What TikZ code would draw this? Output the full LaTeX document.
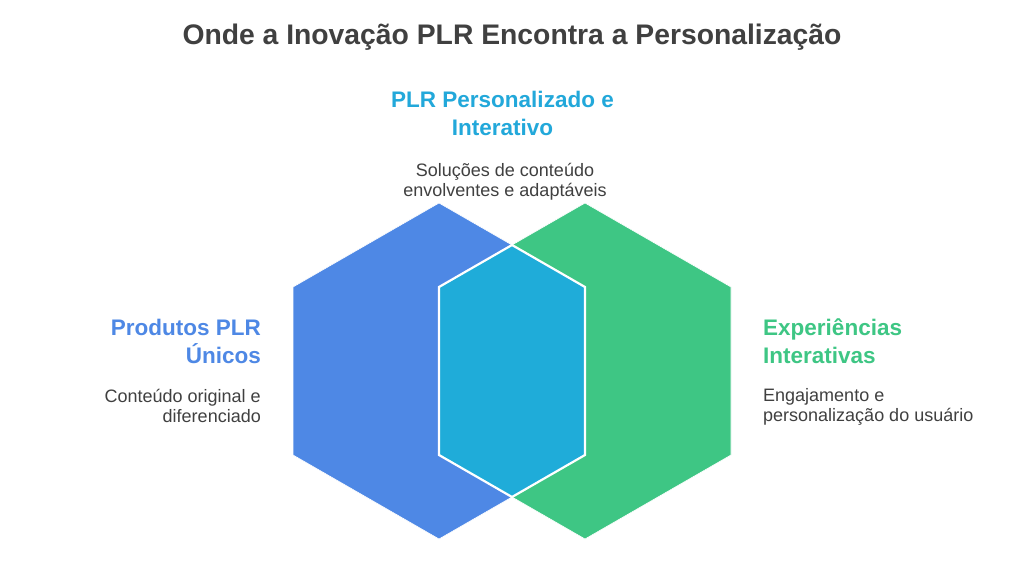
\documentclass[tikz,border=0pt]{standalone}
\usepackage{fontspec}
\setmainfont{Liberation Sans}
\definecolor{hexblue}{HTML}{4E88E5}
\definecolor{hexgreen}{HTML}{3EC684}
\definecolor{hexcyan}{HTML}{1FACD9}
\definecolor{txtgray}{HTML}{404040}
\definecolor{headcyan}{HTML}{22A8DA}
\begin{document}
\begin{tikzpicture}[x=1pt,y=-1pt,
  hexfill/.style={draw=white,line width=0.6pt,line join=miter},
  lens/.style={draw=white,line width=2.2pt,line join=miter},
  ttl/.style={font=\bfseries\fontsize{28.3}{32}\selectfont,text=txtgray,inner sep=0pt},
  head/.style={font=\bfseries\fontsize{22.5}{28}\selectfont,inner sep=0pt},
  body/.style={font=\fontsize{18}{20}\selectfont,text=txtgray,inner sep=0pt}]
\useasboundingbox (0,0) rectangle (1024,583);
\fill[white] (0,0) rectangle (1024,583);
% blue hexagon
\fill[hexblue,hexfill] (439,203) -- (585,287) -- (585,455) -- (439,539) -- (293,455) -- (293,287) -- cycle;
% green hexagon
\fill[hexgreen,hexfill] (585,203) -- (731,287) -- (731,455) -- (585,539) -- (439,455) -- (439,287) -- cycle;
% intersection
\fill[hexcyan,lens] (512,245) -- (585,287) -- (585,455) -- (512,497) -- (439,455) -- (439,287) -- cycle;
% texts
\node[ttl,anchor=base] (title) at (512,45) {Onde a Inovação PLR Encontra a Personalização};
\node[head,text=headcyan,align=center,anchor=base] (th) at (502.5,135.5) {PLR Personalizado e\\Interativo};
\node[body,align=center,anchor=base] (tb) at (505,196.5) {Soluções de conteúdo\\envolventes e adaptáveis};
\node[head,text=hexblue,align=right,anchor=base east] (lh) at (261,363) {Produtos PLR\\Únicos};
\node[body,align=right,anchor=base east] (lb) at (261,422) {Conteúdo original e\\diferenciado};
\node[head,text=hexgreen,align=left,anchor=base west] (rh) at (763,363) {Experiências\\Interativas};
\node[body,align=left,anchor=base west] (rb) at (763,421) {Engajamento e\\personalização do usuário};
\end{tikzpicture}
\end{document}
